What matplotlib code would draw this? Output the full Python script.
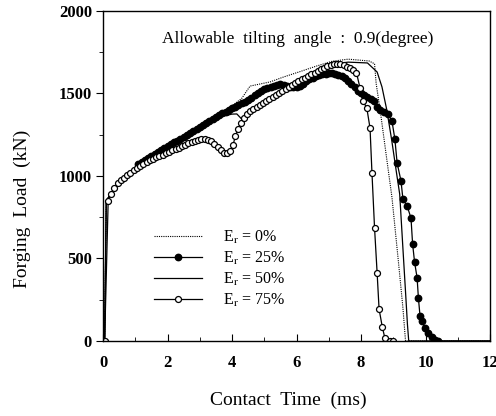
import numpy as np
import matplotlib.pyplot as plt
from matplotlib.ticker import MultipleLocator

plt.rcParams['font.family'] = ['Liberation Serif', 'DejaVu Serif']
plt.rcParams['mathtext.fontset'] = 'stix'

# E_r = 0% (dotted)
t_0 = [0.05, 0.1, 0.3, 0.6, 1.0, 1.5, 2.0, 2.5, 3.0, 3.5, 4.0, 4.3, 4.56, 5.18,
       5.6, 6.1, 6.6, 7.1, 7.6, 8.25, 8.42, 8.47, 8.6, 8.8, 8.96, 9.15, 9.3, 9.38, 12.0]
L_0 = [0, 850, 910, 975, 1045, 1120, 1182, 1245, 1305, 1365, 1425, 1470, 1545, 1570,
       1600, 1632, 1665, 1695, 1708, 1697, 1680, 1560, 1390, 1100, 870, 500, 200, 0, 0]

# E_r = 50% (solid)
t_50 = [0.05, 0.1, 0.3, 0.6, 1.0, 1.5, 2.0, 2.5, 2.9, 3.3, 3.7, 4.0, 4.15, 4.3, 4.45,
        5.0, 5.5, 6.0, 6.5, 7.0, 7.3, 7.6, 8.2, 8.5, 8.65, 8.8, 8.95, 9.1, 9.2, 9.3,
        9.38, 9.44, 9.48, 12.0]
L_50 = [0, 850, 910, 975, 1045, 1118, 1180, 1242, 1290, 1335, 1362, 1375, 1376, 1345, 1375,
        1445, 1510, 1568, 1620, 1668, 1682, 1690, 1685, 1630, 1540, 1400, 1220, 1020, 890, 560,
        300, 100, 0, 0]

# E_r = 25% (filled circles)
t_25 = [0.05, 0.1, 0.3, 0.6, 1.0,
        1.1, 1.2, 1.3, 1.4, 1.5, 1.6, 1.7, 1.8, 1.9, 2.0,
        2.1, 2.2, 2.3, 2.4, 2.5, 2.6, 2.7, 2.8, 2.9, 3.0,
        3.1, 3.2, 3.3, 3.4, 3.5, 3.6, 3.7, 3.8, 3.9, 4.0,
        4.1, 4.2, 4.3, 4.4, 4.5, 4.6, 4.7, 4.8, 4.9, 5.0,
        5.1, 5.2, 5.3, 5.4, 5.5, 5.6, 5.7, 5.8, 5.9, 6.0,
        6.1, 6.2, 6.3, 6.4, 6.5, 6.6, 6.7, 6.8, 6.9, 7.0,
        7.1, 7.2, 7.3, 7.4, 7.5, 7.6, 7.7, 7.8, 7.9, 8.0,
        8.1, 8.2, 8.3, 8.4, 8.5, 8.6, 8.7, 8.84, 8.96, 9.05,
        9.12, 9.24, 9.3, 9.43, 9.55, 9.6, 9.66, 9.74, 9.78, 9.83,
        9.88, 9.98, 10.08, 10.2, 10.3, 10.4, 12.0]
L_25 = [0, 850, 910, 975, 1045,
        1070, 1083, 1095, 1107, 1119, 1131, 1143, 1155, 1167, 1179,
        1191, 1203, 1215, 1227, 1239, 1251, 1263, 1275, 1287, 1299,
        1311, 1323, 1335, 1346, 1357, 1368, 1379, 1390, 1400, 1410,
        1420, 1430, 1440, 1450, 1462, 1475, 1490, 1505, 1515, 1525,
        1535, 1542, 1548, 1553, 1555, 1553, 1548, 1542, 1540, 1542,
        1548, 1560, 1573, 1585, 1596, 1605, 1612, 1617, 1620, 1622,
        1622, 1618, 1612, 1603, 1592, 1575, 1558, 1538, 1518, 1500,
        1488, 1478, 1466, 1455, 1420, 1398, 1390, 1375, 1333, 1224,
        1079, 970, 860, 818, 745, 588, 480, 382, 260, 152,
        121, 79, 48, 25, 5, 0, 0]

# E_r = 75% (open circles)
t_75 = [0.05, 0.16, 0.25, 0.35, 0.45, 0.55, 0.65, 0.75, 0.85, 0.95,
        1.05, 1.15, 1.25, 1.35, 1.45, 1.55, 1.65, 1.75, 1.85, 1.95,
        2.05, 2.15, 2.25, 2.35, 2.45, 2.55, 2.65, 2.75, 2.85, 2.95,
        3.05, 3.15, 3.25, 3.35, 3.45, 3.55, 3.65, 3.75, 3.85, 3.95,
        4.03, 4.10, 4.19, 4.27, 4.36, 4.46, 4.56, 4.66, 4.76, 4.86,
        4.96, 5.06, 5.16, 5.26, 5.36, 5.46, 5.56, 5.66, 5.76, 5.86,
        5.96, 6.06, 6.16, 6.26, 6.36, 6.46, 6.56, 6.66, 6.76, 6.86,
        6.96, 7.06, 7.16, 7.26, 7.36, 7.46, 7.56, 7.66, 7.76, 7.86,
        7.97, 8.06, 8.18, 8.28, 8.34, 8.42, 8.5, 8.56, 8.66, 8.74,
        8.9, 9.0]
L_75 = [0, 850, 890, 925, 955, 975, 990, 1005, 1020, 1035,
        1048, 1060, 1072, 1085, 1095, 1105, 1113, 1122, 1130, 1138,
        1146, 1155, 1163, 1172, 1180, 1190, 1200, 1208, 1215, 1220,
        1222, 1222, 1218, 1210, 1195, 1175, 1155, 1142, 1138, 1150,
        1185, 1240, 1285, 1320, 1350, 1375, 1392, 1405, 1418, 1430,
        1442, 1455, 1468, 1480, 1492, 1505, 1517, 1528, 1540, 1552,
        1562, 1574, 1585, 1596, 1606, 1616, 1626, 1636, 1646, 1656,
        1665, 1673, 1678, 1680, 1676, 1670, 1662, 1652, 1640, 1625,
        1533, 1454, 1412, 1290, 1018, 685, 412, 194, 85, 18,
        0, 0]

fig = plt.figure(figsize=(4.96, 4.16), dpi=100)
ax = fig.add_axes([0.2077, 0.1803, 0.7802, 0.7933])

ax.plot(t_0, L_0, color='black', lw=0.8, linestyle=(0, (1, 1)), label='E$_\\mathrm{r}$ = 0%')
ax.plot(t_25, L_25, color='black', lw=0.9, marker='o', ms=4.6, mfc='black', mec='black',
        markevery=list(range(5, len(t_25) - 1)), label='E$_\\mathrm{r}$ = 25%')
ax.plot(t_50, L_50, color='black', lw=0.9, label='E$_\\mathrm{r}$ = 50%')
ax.plot(t_75, L_75, color='black', lw=0.9, marker='o', ms=4.3, mfc='white', mec='black',
        mew=0.9, label='E$_\\mathrm{r}$ = 75%')

ax.set_xlim(0, 12)
ax.set_ylim(0, 2000)
ax.xaxis.set_major_locator(MultipleLocator(2))
ax.xaxis.set_minor_locator(MultipleLocator(1))
ax.yaxis.set_major_locator(MultipleLocator(500))
ax.yaxis.set_minor_locator(MultipleLocator(250))
ax.tick_params(axis='x', which='both', direction='in', pad=10, labelsize=12)
ax.tick_params(axis='x', which='major', length=5)
ax.tick_params(axis='x', which='minor', length=3)
ax.tick_params(axis='y', which='both', direction='out', pad=3, labelsize=12)
ax.tick_params(axis='y', which='major', length=5)
ax.tick_params(axis='y', which='minor', length=3)
for lab in ax.get_xticklabels() + ax.get_yticklabels():
    lab.set_fontweight('bold')
for sp in ax.spines.values():
    sp.set_linewidth(1.0)

ax.text(6.05, 1830, 'Allowable  tilting  angle  :  0.9(degree)', ha='center', va='center',
        fontsize=12.5)
ax.set_xlabel('Contact  Time  (ms)', fontsize=14)
ax.set_ylabel('Forging  Load  (kN)', fontsize=14)
ax.xaxis.set_label_coords(0.48, -0.155)
ax.yaxis.set_label_coords(-0.185, 0.40)

ax.legend(loc='upper left', bbox_to_anchor=(0.115, 0.36), frameon=False, fontsize=11.5,
          handlelength=3.0, numpoints=1, labelspacing=0.25, handletextpad=1.3,
          borderaxespad=0)

fig.savefig('out.png', dpi=100)
